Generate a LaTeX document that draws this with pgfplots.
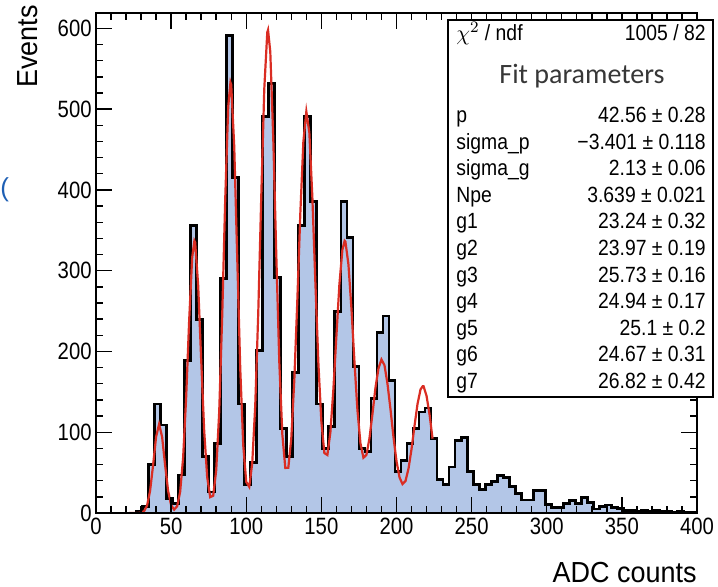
\documentclass[border=0pt]{standalone}
\usepackage{pgfplots}
\pgfplotsset{compat=1.18}
\usepackage{fontspec}
\setmainfont{Liberation Sans}
\newfontfamily\narrowfont[FakeStretch=0.86]{Liberation Sans}
\newfontfamily\boxnarrow[FakeStretch=0.88]{Liberation Sans}
\newfontfamily\labfont[FakeStretch=0.93]{Liberation Sans}
\newfontfamily\titfont{Carlito}
\definecolor{histfill}{RGB}{179,198,231}
\definecolor{fitred}{RGB}{218,45,35}
\definecolor{slideblue}{RGB}{30,95,180}
\definecolor{titgray}{RGB}{55,55,55}
\newcommand{\boxfont}{\boxnarrow\fontsize{11}{12}\selectfont}
\begin{document}
\begin{tikzpicture}
\useasboundingbox (-48pt,-37pt) rectangle (311pt,256.5pt);
\begin{axis}[
  at={(0pt,0pt)}, anchor=south west,
  scale only axis, width=300.5pt, height=250pt,
  xmin=0, xmax=400, ymin=0, ymax=619,
  xtick={0,50,...,400}, ytick={0,100,...,600},
  minor x tick num=4, minor y tick num=4,
  tick align=inside, tick pos=both,
  major tick length=8pt, minor tick length=3.5pt,
  every tick/.style={black, line width=0.7pt},
  axis line style={line width=0.9pt},
  axis on top,
  scaled ticks=false,
  /pgf/number format/assume math mode=true,
  tick label style={font=\narrowfont\fontsize{11.8}{13}\selectfont},
  yticklabel style={inner xsep=2pt},
  xticklabel style={inner ysep=2.5pt},
]
\addplot[const plot, fill=histfill, draw=black, line width=1.4pt] coordinates {
(0,0) (3,0) (7,0) (11,0) (15,0) (19,0) (23,0) (27,2) (31,8) (35,60) (39,135)
(43,109) (47,18) (51,12) (55,47) (59,189) (63,356) (67,240) (71,70) (75,26)
(79,86) (83,290) (87,591) (91,415) (95,135) (99,35) (103,63) (107,201) (111,491)
(115,532) (119,292) (123,105) (127,70) (131,174) (135,356) (139,491) (143,386)
(147,135) (151,80) (155,107) (159,249) (163,386) (167,341) (171,181) (175,80)
(179,76) (183,142) (187,223) (191,244) (195,164) (199,51) (203,65) (207,86)
(211,105) (215,125) (219,130) (223,92) (227,41) (231,35) (235,57) (239,90)
(243,93) (247,51) (251,35) (255,29) (259,35) (263,39) (267,46) (271,44)
(275,33) (279,24) (283,16) (287,16) (291,28) (295,28) (299,11) (303,7)
(307,7) (311,12) (315,15) (319,12) (323,19) (327,13) (331,5) (335,8)
(339,10) (343,7) (347,6) (351,3) (355,3) (359,2) (363,3) (367,2) (371,3)
(375,2) (379,2) (383,1) (387,2) (391,1) (395,1) (399,1) (400,1)
} \closedcycle;
\addplot[fitred, line width=1.1pt] coordinates {
(22,0) (24,0) (26,0) (28,0.1) (30,0.4) (32,2.3) (34,9.3) (36,27.4) (38,59.3)
(40,94.3) (42,110) (44,94.3) (46,59.3) (48,27.4) (50,9.7) (52,4.2) (54,8.3)
(56,26) (58,68.7) (60,143) (62,238) (64,316) (65.5,337) (66,335) (68,282)
(70,190) (72,102) (74,44.5) (76,19.6) (78,21.4) (80,52.7) (82,125) (84,244)
(86,388) (88,503) (89.5,533) (90,530) (92,454) (94,316) (96,179) (98,84)
(100,38.5) (102,32.4) (104,62) (106,133.5) (108,248) (110,392) (112,525)
(114,595) (114.5,598) (116,571) (118,463) (120,319) (122,187) (124,97.8)
(126,55.8) (128,55.9) (130,93) (132,165) (134,263) (136,371) (138,459)
(140,497) (142,471) (144,391) (146,286) (148,186) (150,113) (152,74.2)
(154,71.8) (156,100) (158,153) (160,219) (162,283) (164,326) (165.5,337)
(166,336) (168,308) (170,253.5) (172,188) (174,127.5) (176,86.4) (178,68.4)
(180,72) (182,92.4) (184,122.5) (186,155) (188,179) (190,190) (192,183)
(194,160) (196,128.5) (198,93.8) (200,64.3) (202,44.2) (204,35.8) (206,39.6)
(208,55) (210,79) (212,108) (214,135) (216,153) (217.5,157) (218,157)
(220,145) (222,122) (224,92)
};
\end{axis}
% axis titles
\node[rotate=90, anchor=base east, inner sep=0pt, font=\labfont\fontsize{14.5}{16}\selectfont] at (-29pt,254pt) {Events};
\node[anchor=base east, inner sep=0pt, font=\labfont\fontsize{14.5}{16}\selectfont] at (300.5pt,-35pt) {ADC counts};
\node[anchor=west, inner sep=0pt, text=slideblue, font=\fontsize{13}{14}\selectfont] at (-48pt,161.5pt) {(};
% statistics box
\draw[line width=0.75pt, fill=white] (176pt,58pt) rectangle (308.5pt,246.5pt);
\node[anchor=base west, inner sep=0pt, font=\boxfont] at (180pt,236.25pt) {$\chi^{2}$ / ndf};
\node[anchor=base east, inner sep=0pt, font=\boxfont] at (305pt,236.25pt) {1005 / 82};
\node[inner sep=0pt, text=titgray, font=\titfont\fontsize{14}{16}\selectfont] at (243pt,218.5pt) {Fit parameters};
\foreach \lab/\val/\yy in {
  p/{42.56 ± 0.28}/199,
  sigma\_p/{−3.401 ± 0.118}/185.7,
  sigma\_g/{2.13 ± 0.06}/172.4,
  Npe/{3.639 ± 0.021}/159.1,
  g1/{23.24 ± 0.32}/145.8,
  g2/{23.97 ± 0.19}/132.5,
  g3/{25.73 ± 0.16}/119.2,
  g4/{24.94 ± 0.17}/105.9,
  g5/{25.1 ± 0.2}/92.6,
  g6/{24.67 ± 0.31}/79.3,
  g7/{26.82 ± 0.42}/66} {
  \node[anchor=base west, inner sep=0pt, font=\boxfont] at (180pt,\yy pt-3.75pt) {\lab};
  \node[anchor=base east, inner sep=0pt, font=\boxfont] at (305pt,\yy pt-3.75pt) {\val};
}
\end{tikzpicture}
\end{document}
